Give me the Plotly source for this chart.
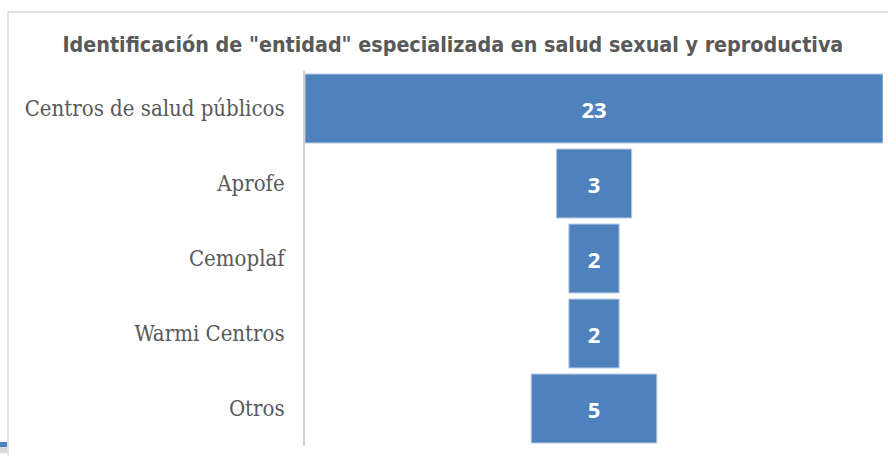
import plotly.graph_objects as go

categories = ["Centros de salud públicos", "Aprofe", "Cemoplaf", "Warmi Centros", "Otros"]
values = [23, 3, 2, 2, 5]
title_text = 'Identificación de "entidad" especializada en salud sexual y reproductiva'

W, H = 888, 455
L, R, T, B = 305, 5, 71, 9
half = max(values) / 2

fig = go.Figure(go.Funnel(
    y=categories,
    x=values,
    textinfo="value",
    textposition="inside",
    textangle=0,
    constraintext="none",
    insidetextfont=dict(color="white", size=22, family="Open Sans", weight="bold"),
    insidetextanchor="middle",
    marker=dict(color="#4F81BD", line=dict(color="#B9CDE5", width=1)),
    connector=dict(visible=False),
))

def px_x(p):
    return (p - L) / (W - L - R)

def px_y(p):
    return (H - B - p) / (H - T - B)

fig.update_layout(
    width=W, height=H,
    margin=dict(l=L, r=R, t=T, b=B),
    paper_bgcolor="white", plot_bgcolor="white",
    funnelgap=0.08,
    showlegend=False,
    title=dict(text="<b>" + title_text + "</b>", x=0.51, xanchor="center", y=1 - 45 / H, yanchor="middle",
               font=dict(family="DejaVu Sans Condensed", size=21.3, color="#595959")),
    xaxis=dict(visible=False, range=[-half, half], fixedrange=True),
    yaxis=dict(showline=True, linecolor="#D0D0D0", linewidth=2, ticks="", showgrid=False,
               ticklabelstandoff=14, fixedrange=True,
               tickfont=dict(family="DejaVu Serif Condensed", size=22, color="#595959")),
    shapes=[
        dict(type="line", xref="paper", yref="paper", x0=px_x(8), x1=px_x(888), y0=px_y(12), y1=px_y(12),
             line=dict(color="#D9D9D9", width=1.5)),
        dict(type="line", xref="paper", yref="paper", x0=px_x(8), x1=px_x(8), y0=px_y(12), y1=px_y(455),
             line=dict(color="#D9D9D9", width=1.5)),
        dict(type="rect", xref="paper", yref="paper", x0=px_x(0), x1=px_x(7), y0=px_y(447), y1=px_y(442),
             fillcolor="#4F81BD", line=dict(width=0)),
        dict(type="rect", xref="paper", yref="paper", x0=px_x(0), x1=px_x(7), y0=px_y(453), y1=px_y(447),
             fillcolor="#D9D9D9", line=dict(width=0)),
    ],
)

fig.write_html("out.html", config={"displayModeBar": False},
               post_script="document.body.style.margin='0';document.body.style.overflow='hidden';")
